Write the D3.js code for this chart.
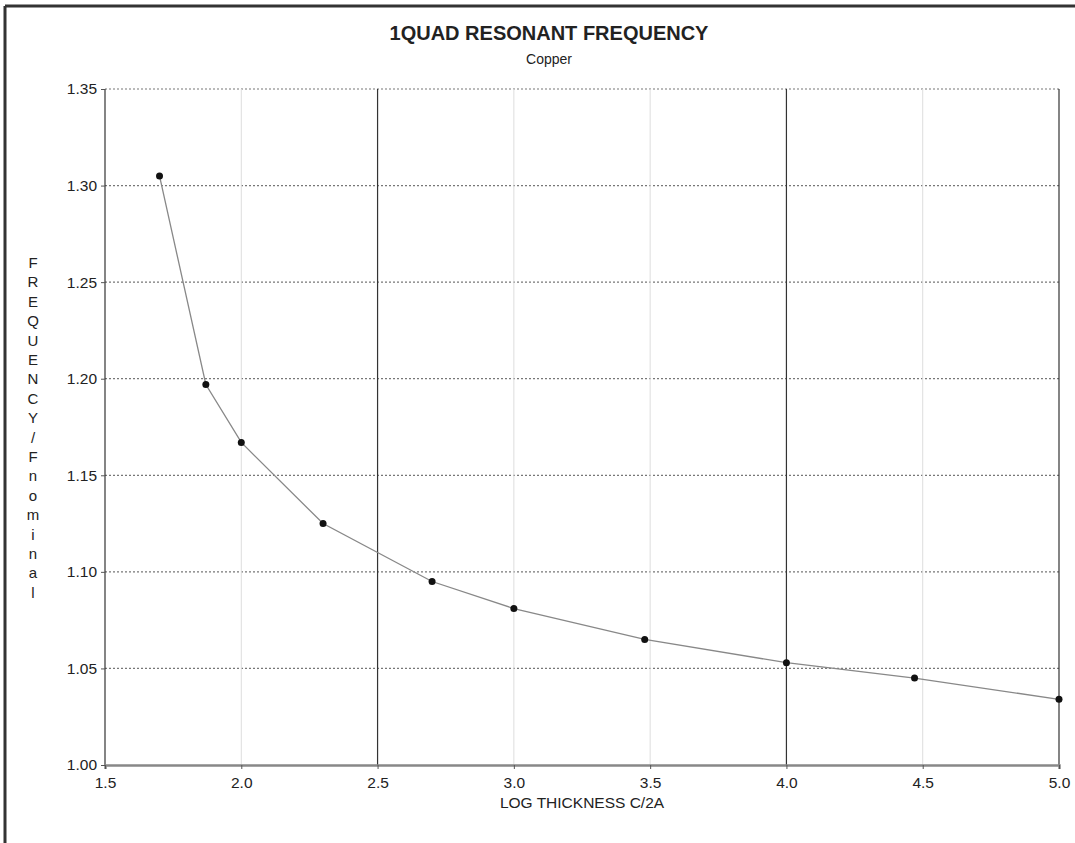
<!DOCTYPE html>
<html>
<head>
<meta charset="utf-8">
<script src="https://cdn.jsdelivr.net/npm/d3@7"></script>
<style>
  body { margin: 0; background: #fff; }
  text { font-family: "Liberation Sans", Arial, sans-serif; fill: #222; }
</style>
</head>
<body>
<div id="chart"></div>
<script>
const thickness = [1.70, 1.87, 2.0, 2.3, 2.7, 3.0, 3.48, 4.0, 4.47, 5.0];
const frequency = [1.305, 1.197, 1.167, 1.125, 1.095, 1.081, 1.065, 1.053, 1.045, 1.034];
const xTicks = [1.5, 2.0, 2.5, 3.0, 3.5, 4.0, 4.5, 5.0];
const yTicks = [1.00, 1.05, 1.10, 1.15, 1.20, 1.25, 1.30, 1.35];
const darkLines = [1.5, 2.5, 4.0, 5.0];
const yLabel = 'FREQUENCY/Fnominal';

const width = 1075, height = 843;
const margin = { top: 89, right: 16, bottom: 78, left: 105 };
const w = width - margin.left - margin.right;
const h = height - margin.top - margin.bottom;

const svg = d3.select('#chart')
  .append('svg')
  .attr('width', width)
  .attr('height', height);

// outer frame (top and left edges visible)
svg.append('line').attr('x1', 5).attr('x2', width).attr('y1', 6).attr('y2', 6)
  .attr('stroke', '#333').attr('stroke-width', 3);
svg.append('line').attr('x1', 5).attr('x2', 5).attr('y1', 6).attr('y2', height)
  .attr('stroke', '#333').attr('stroke-width', 3);

const g = svg.append('g').attr('transform', `translate(${margin.left},${margin.top})`);

const x = d3.scaleLinear().domain([1.5, 5.0]).range([0, w]);
const y = d3.scaleLinear().domain([1.0, 1.35]).range([h, 0]);

// horizontal dotted grid
g.selectAll('.hgrid')
  .data(yTicks.filter((d) => d > 1.0))
  .enter()
  .append('line')
  .attr('x1', 0).attr('x2', w)
  .attr('y1', (d) => y(d)).attr('y2', (d) => y(d))
  .attr('stroke', '#777')
  .attr('stroke-width', 1.2)
  .attr('stroke-dasharray', '2,2');

// vertical grid
g.selectAll('.vgrid')
  .data(xTicks)
  .enter()
  .append('line')
  .attr('x1', (d) => x(d)).attr('x2', (d) => x(d))
  .attr('y1', 0).attr('y2', h)
  .attr('stroke', (d) => (darkLines.includes(d) ? '#333' : '#ddd'))
  .attr('stroke-width', (d) => (darkLines.includes(d) ? 1.2 : 1));

// axes
const xAxis = g.append('g')
  .attr('transform', `translate(0,${h})`)
  .call(d3.axisBottom(x).tickValues(xTicks).tickFormat(d3.format('.1f')).tickSize(4).tickPadding(8));
xAxis.select('.domain').attr('stroke', '#888').attr('stroke-width', 2.5);
xAxis.selectAll('.tick line').attr('stroke', '#555');
xAxis.selectAll('text').attr('font-size', 15.5).attr('fill', '#222');

const yAxis = g.append('g')
  .call(d3.axisLeft(y).tickValues(yTicks).tickFormat(d3.format('.2f')).tickSize(4).tickPadding(4));
yAxis.select('.domain').remove();
yAxis.selectAll('.tick line').attr('stroke', '#555');
yAxis.selectAll('text').attr('font-size', 15.5).attr('fill', '#222');

// series
const data = thickness.map((t, i) => ({ t, f: frequency[i] }));

g.append('path')
  .datum(data)
  .attr('fill', 'none')
  .attr('stroke', '#888')
  .attr('stroke-width', 1.3)
  .attr('d', d3.line().x((d) => x(d.t)).y((d) => y(d.f)));

g.selectAll('circle')
  .data(data)
  .enter()
  .append('circle')
  .attr('cx', (d) => x(d.t))
  .attr('cy', (d) => y(d.f))
  .attr('r', 3.5)
  .attr('fill', '#111');

// titles
svg.append('text')
  .attr('x', 549).attr('y', 40)
  .attr('text-anchor', 'middle')
  .attr('font-size', 20).attr('font-weight', 'bold')
  .text('1QUAD RESONANT FREQUENCY');

svg.append('text')
  .attr('x', 549).attr('y', 64)
  .attr('text-anchor', 'middle')
  .attr('font-size', 14)
  .text('Copper');

svg.append('text')
  .attr('x', margin.left + w / 2).attr('y', 808)
  .attr('text-anchor', 'middle')
  .attr('font-size', 15.5)
  .text('LOG THICKNESS C/2A');

// vertical stacked y label
svg.append('g')
  .selectAll('text')
  .data(yLabel.split(''))
  .enter()
  .append('text')
  .attr('x', 33)
  .attr('y', (d, i) => 268 + i * 19.4)
  .attr('text-anchor', 'middle')
  .attr('font-size', 15)
  .attr('fill', '#222')
  .text((d) => d);
</script>
</body>
</html>
